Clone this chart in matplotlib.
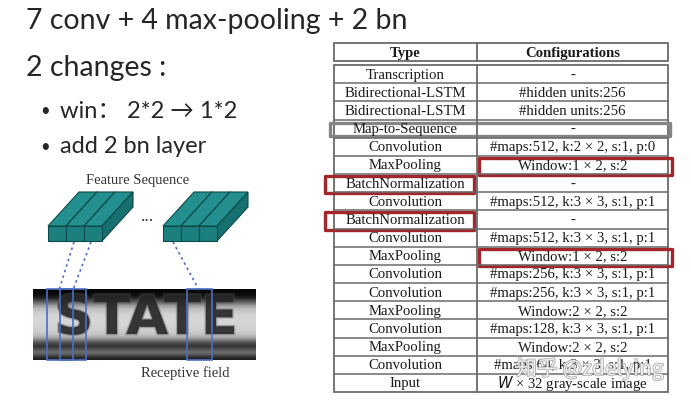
import numpy as np
import matplotlib
matplotlib.use('Agg')
import matplotlib.pyplot as plt
from matplotlib.patches import Rectangle, Polygon
import matplotlib.patheffects as pe

plt.rcParams['font.family'] = ['Lato', 'DejaVu Sans']


# ~~~~~~ Content ~~~~~~~~~~~~~~~~~~~~~~~~~~~~~~~~~~~~~~~~~~~~~~~~~~~~~~~~~~~~~~

title = '7 conv + 4 max-pooling + 2 bn'
subtitle = '2 changes :'
bullets = ['win： 2*2 \u2192 1*2', 'add 2 bn layer']

header = ['Type', 'Configurations']
types = ['Transcription', 'Bidirectional-LSTM', 'Bidirectional-LSTM',
         'Map-to-Sequence', 'Convolution', 'MaxPooling', 'BatchNormalization',
         'Convolution', 'BatchNormalization', 'Convolution', 'MaxPooling',
         'Convolution', 'Convolution', 'MaxPooling', 'Convolution',
         'MaxPooling', 'Convolution', 'Input']
configs = ['-', '#hidden units:256', '#hidden units:256', '-',
           '#maps:512, k:2 \u00d7 2, s:1, p:0', 'Window:1 \u00d7 2, s:2', '-',
           '#maps:512, k:3 \u00d7 3, s:1, p:1', '-',
           '#maps:512, k:3 \u00d7 3, s:1, p:1', 'Window:1 \u00d7 2, s:2',
           '#maps:256, k:3 \u00d7 3, s:1, p:1',
           '#maps:256, k:3 \u00d7 3, s:1, p:1', 'Window:2 \u00d7 2, s:2',
           '#maps:128, k:3 \u00d7 3, s:1, p:1', 'Window:2 \u00d7 2, s:2',
           '#maps:64, k:3 \u00d7 3, s:1, p:1', '$W$ \u00d7 32 gray-scale image']

# (row, column) cells marked with a box; column 2 = whole row
red_marks = [(5, 1), (6, 0), (8, 0), (10, 1)]
gray_marks = [(3, 2)]

n_bars = [3, 3]
word = 'STATE'
# grey level of the photo strip, top to bottom
image_shades = [0.03, 0.05, 0.35, 0.70, 0.80, 0.84, 0.84, 0.82, 0.80, 0.72,
                0.30, 0.15, 0.55, 0.10]


# ~~~~~~ Canvas ~~~~~~~~~~~~~~~~~~~~~~~~~~~~~~~~~~~~~~~~~~~~~~~~~~~~~~~~~~~~~~~

fig = plt.figure(figsize=(6.91, 4.10), dpi=100)
ax = fig.add_axes([0, 0, 1, 1])
ax.axis('off')

txt_col = '#262626'
ax.text(26, 21, title, fontsize=20.5, color=txt_col, va='center', ha='left')
ax.text(26, 68, subtitle, fontsize=20.5, color=txt_col, va='center', ha='left')
for i, b in enumerate(bullets):
    y = 111 + i * 36
    ax.text(40, y, '\u2022', fontsize=12, color=txt_col, va='center', ha='left')
    ax.text(60, y, b, fontsize=17, color=txt_col, va='center', ha='left',
            family=['Lato', 'Noto Sans CJK SC', 'DejaVu Sans'])


# ~~~~~~ Table ~~~~~~~~~~~~~~~~~~~~~~~~~~~~~~~~~~~~~~~~~~~~~~~~~~~~~~~~~~~~~~~~

x0, xm, x1 = 334, 477, 668
hy0, hy1 = 44, 62
by0 = 66
rh = (393 - by0) / len(types)
line_col = '#6a6a6a'
serif = 'Liberation Serif'
cell_fs = 10.6

ax.add_patch(Rectangle((x0, hy0), x1 - x0, hy1 - hy0, fill=False, ec=line_col, lw=1.3))
ax.plot([xm, xm], [hy0, hy1], color=line_col, lw=1.3)
ax.text((x0 + xm) / 2, (hy0 + hy1) / 2, header[0], family=serif, weight='bold',
        fontsize=cell_fs, ha='center', va='center', color='#1a1a1a')
ax.text((xm + x1) / 2, (hy0 + hy1) / 2, header[1], family=serif, weight='bold',
        fontsize=cell_fs, ha='center', va='center', color='#1a1a1a')

by1 = by0 + rh * len(types)
ax.add_patch(Rectangle((x0, by0), x1 - x0, by1 - by0, fill=False, ec=line_col, lw=1.3))
ax.plot([xm, xm], [by0, by1], color=line_col, lw=1.3)
for i in range(1, len(types)):
    ax.plot([x0, x1], [by0 + i * rh] * 2, color=line_col, lw=1.1)

for i, (t, c) in enumerate(zip(types, configs)):
    yc = by0 + (i + 0.5) * rh
    ax.text((x0 + xm) / 2, yc, t, family=serif, fontsize=cell_fs, ha='center',
            va='center', color='#1a1a1a')
    ax.text((xm + x1) / 2, yc, c, family=serif, fontsize=cell_fs, ha='center',
            va='center', color='#1a1a1a')


def mark(row, col, color, lw):
    if col == 0:
        xa, xb = x0 - 9, xm - 3
    elif col == 1:
        xa, xb = xm + 2, x1 + 4
    else:
        xa, xb = x0 - 4, x1 + 2
    ya = by0 + row * rh + 2
    yb = by0 + (row + 1) * rh + 1
    if col == 2:
        ya, yb = ya + 1, yb - 3
    ax.add_patch(Rectangle((xa, ya), xb - xa, yb - ya, fill=False, ec=color, lw=lw,
                           joinstyle='round'))


for r, c in red_marks:
    mark(r, c, '#a3262a', 2.4)
for r, c in gray_marks:
    mark(r, c, '#858585', 2.4)


# ~~~~~~ Feature sequence diagram ~~~~~~~~~~~~~~~~~~~~~~~~~~~~~~~~~~~~~~~~~~~~~

ax.text(138, 181, 'Feature Sequence', family=serif, fontsize=10.5, ha='center',
        va='center', color='#333333')

bw, bh, dx, dy = 18, 15, 31, -34
group_x = [48, 163]
edge = '#0e4a4a'
for gx, nb in zip(group_x, n_bars):
    for k in range(nb):
        fx = gx + k * bw
        fy = 227
        top = Polygon([(fx, fy), (fx + bw, fy), (fx + bw + dx, fy + dy), (fx + dx, fy + dy)],
                      closed=True, fc='#23908f', ec=edge, lw=0.8)
        side = Polygon([(fx + bw, fy), (fx + bw + dx, fy + dy), (fx + bw + dx, fy + dy + bh),
                        (fx + bw, fy + bh)], closed=True, fc='#16706f', ec=edge, lw=0.8)
        front = Rectangle((fx, fy), bw, bh, fc='#1b7f7e', ec=edge, lw=0.8)
        ax.add_patch(top)
        ax.add_patch(side)
        ax.add_patch(front)
ax.text(147, 217, '...', fontsize=13, ha='center', va='center', color='#333333',
        family=serif)

# text photo strip
ix0, ix1, iy0, iy1 = 33, 256, 290, 361
shade = np.array(image_shades).reshape(-1, 1)
ax.imshow(shade, cmap='gray', vmin=0, vmax=1, extent=(ix0, ix1, iy1, iy0),
          aspect='auto', interpolation='bicubic', zorder=1)
ax.text(146, 320, word, fontsize=39, weight='bold', family='DejaVu Sans',
        ha='center', va='center', color='#262626', alpha=0.85, zorder=2,
        path_effects=[pe.withStroke(linewidth=2, foreground='#555555', alpha=0.4)])

blue = '#4c6fc4'
fields = [(47, 73), (60, 86), (187, 212)]
for xa, xb in fields:
    ax.add_patch(Rectangle((xa, iy0), xb - xa, iy1 - iy0, fill=False, ec=blue, lw=1.2, zorder=3))

# dotted links from features to receptive fields
links = [(74, 243, 59, 291), (91, 243, 73, 291), (173, 243, 199, 291)]
for xa, ya, xb, yb in links:
    ax.plot([xa, xb], [ya, yb], color=blue, lw=1.2, ls=(0, (1.5, 2)), zorder=3)

ax.text(185, 373, 'Receptive field', family=serif, fontsize=10.5, ha='center',
        va='center', color='#333333')

# watermark
ax.text(590, 370, '知乎 @zdelying', fontsize=15, ha='center', va='center', color='white',
        alpha=0.75, family=['Noto Sans CJK SC', 'DejaVu Sans'],
        path_effects=[pe.withStroke(linewidth=1.2, foreground='#9a9a9a')], zorder=5)

ax.set_xlim(0, 691)
ax.set_ylim(410, 0)

fig.savefig('out.png', dpi=100)
